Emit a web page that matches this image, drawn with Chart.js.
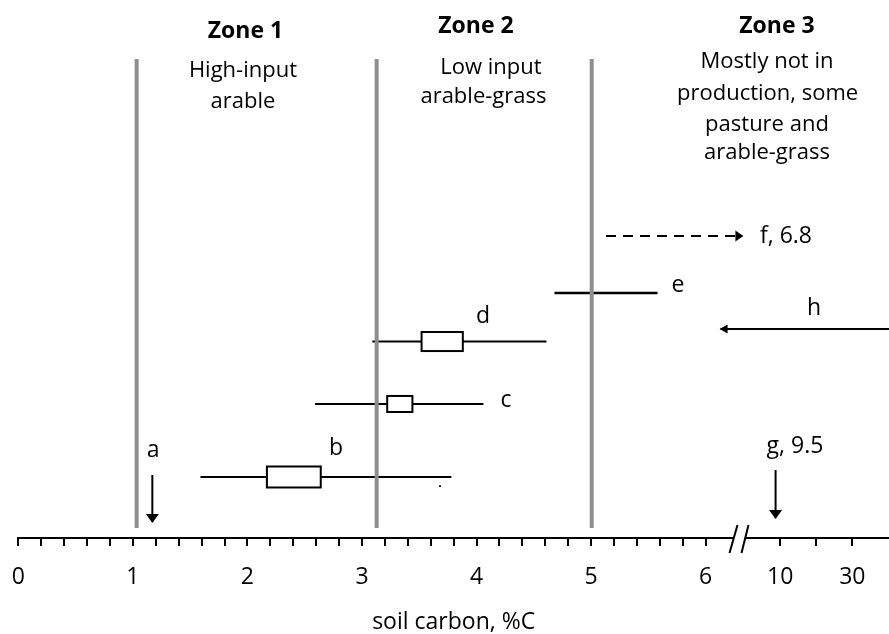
<!DOCTYPE html>
<html><head><meta charset="utf-8">
<script src="https://cdn.jsdelivr.net/npm/chart.js@4.4.1/dist/chart.umd.min.js"></script>
<style>html,body{margin:0;padding:0;background:#fff}#wrap{width:889px;height:634px;position:relative}</style>
</head><body><div id="wrap"><canvas id="c"></canvas></div>
<script>
// ---------------- data ----------------
const zoneBounds = [1.033, 3.128, 5.005];
const zoneTitles = ['Zone 1', 'Zone 2', 'Zone 3'];
const zoneDescriptions = [
  ['High-input', 'arable'],
  ['Low input', 'arable-grass'],
  ['Mostly not in', 'production, some', 'pasture and', 'arable-grass']
];

const rangeStudies = ['b', 'c', 'd', 'e'];
const rangeLow  = [1.59, 2.59, 3.09, 4.68];
const rangeHigh = [3.78, 4.06, 4.61, 5.58];

const boxStudies = ['b', 'c', 'd'];
const boxLow  = [2.17, 3.22, 3.52];
const boxHigh = [2.64, 3.44, 3.88];

const arrowStudies = ['a', 'f', 'g', 'h'];
const arrowFrom = [1.17, 5.13, 6.61, 7.60];
const arrowTo   = [1.17, 6.32, 6.61, 6.13];

const studyLabels = { a: 'a', b: 'b', c: 'c', d: 'd', e: 'e', f: 'f, 6.8', g: 'g, 9.5', h: 'h' };

const majorTickValues = [0, 1, 2, 3, 4, 5, 6];
const brokenTickValues = [6.65, 6.96, 7.28];
const brokenTickLabels = ['10', '', '30'];
const axisBreakAt = 6.295;
const axisMax = 7.60;

// ---------------- layout (positions / sizes) ----------------
const rowY = { b: 1.134, c: 2.491, d: 3.652, e: 4.554, f: 5.613, h: 3.885 };
const verticalArrowY = { a: [1.171, 0.297], g: [1.264, 0.372] };
const boxHalfHeight = { b: 0.195, c: 0.149, d: 0.177 };
const zoneLineY = [0.186, 8.903];
const arrowStyle = {
  a: { w: 2, len: 9, wid: 13, dash: [] },
  f: { w: 2, len: 8, wid: 11, dash: [10, 7] },
  g: { w: 2, len: 9, wid: 13, dash: [] },
  h: { w: 1.8, len: 8, wid: 9, dash: [] }
};
const zoneTitlePos = [[1.983, 9.294], [3.995, 9.387], [6.622, 9.387]];
const zoneDescPos = [
  [[1.961, 8.569], [1.961, 7.993]],
  [[4.126, 8.625], [4.060, 8.086]],
  [[6.535, 8.736], [6.540, 8.141], [6.535, 7.565], [6.535, 7.045]]
];
const labelPos = {
  a: [1.176, 1.506, 'center'], b: [2.773, 1.543, 'center'], c: [4.257, 2.435, 'center'],
  d: [4.056, 3.996, 'center'], e: [5.758, 4.572, 'center'], f: [6.474, 5.483, 'left'],
  g: [6.779, 1.580, 'center'], h: [6.945, 4.145, 'center']
};
const strayDot = [{ x: 3.681, y: 0.967 }];

const FONT = '"Open Sans", "DejaVu Sans", sans-serif';
const minorTicks = [];
for (let i = 0; i <= 30; i++) minorTicks.push(Math.round(i * 2) / 10);

// ---------------- datasets ----------------
const datasets = [];
zoneBounds.forEach((xv, i) => datasets.push({
  label: zoneTitles[i] + ' boundary',
  data: [{ x: xv, y: zoneLineY[0] }, { x: xv, y: zoneLineY[1] }],
  showLine: true, borderColor: '#8e8e8e', borderWidth: 4, pointRadius: 0, order: 0
}));
rangeStudies.forEach((s, i) => datasets.push({
  label: 'range ' + s,
  data: [{ x: rangeLow[i], y: rowY[s] }, { x: rangeHigh[i], y: rowY[s] }],
  showLine: true, borderColor: '#000', borderWidth: s === 'e' ? 2.5 : 2, pointRadius: 0, order: 2
}));
arrowStudies.forEach((s, i) => {
  const v = verticalArrowY[s];
  const y0 = v ? v[0] : rowY[s], y1 = v ? v[1] : rowY[s];
  datasets.push({
    label: 'arrow ' + s,
    data: [{ x: arrowFrom[i], y: y0 }, { x: arrowTo[i], y: y1 }],
    showLine: true, borderColor: '#000', borderWidth: arrowStyle[s].w,
    borderDash: arrowStyle[s].dash, pointRadius: 0, order: 2, arrowHead: arrowStyle[s]
  });
});
datasets.push({ label: 'dot', data: strayDot, pointRadius: 1.1, backgroundColor: '#000', borderWidth: 0, showLine: false, order: 1 });

// ---------------- plugin for boxes, arrowheads, break, text ----------------
const diagramPlugin = {
  id: 'diagram',
  afterDraw(chart) {
    const { ctx, scales: { x, y } } = chart;
    ctx.save();
    // axis break
    const bc = x.getPixelForValue(axisBreakAt);
    const ay = chart.chartArea.bottom;
    ctx.fillStyle = '#fff';
    ctx.fillRect(bc - 5.5, ay - 4, 11, 8);
    ctx.strokeStyle = '#000';
    ctx.lineWidth = 2;
    ctx.beginPath();
    ctx.moveTo(bc - 10, ay + 15); ctx.lineTo(bc - 2, ay - 13);
    ctx.moveTo(bc + 2, ay + 15); ctx.lineTo(bc + 9, ay - 13);
    ctx.stroke();

    // boxes
    boxStudies.forEach((s, i) => {
      const x1 = x.getPixelForValue(boxLow[i]), x2 = x.getPixelForValue(boxHigh[i]);
      const y1 = y.getPixelForValue(rowY[s] + boxHalfHeight[s]), y2 = y.getPixelForValue(rowY[s] - boxHalfHeight[s]);
      ctx.fillStyle = '#fff';
      ctx.fillRect(x1, y1, x2 - x1, y2 - y1);
      ctx.strokeStyle = '#000';
      ctx.lineWidth = 2;
      ctx.strokeRect(x1, y1, x2 - x1, y2 - y1);
    });

    // arrowheads
    chart.data.datasets.forEach((ds, i) => {
      if (!ds.arrowHead) return;
      const meta = chart.getDatasetMeta(i);
      const p0 = meta.data[0], p1 = meta.data[1];
      let dx = p1.x - p0.x, dy = p1.y - p0.y;
      const L = Math.hypot(dx, dy); dx /= L; dy /= L;
      const tx = p1.x + dx * 1, ty = p1.y + dy * 1;
      const bx = tx - dx * ds.arrowHead.len, by = ty - dy * ds.arrowHead.len;
      const hw = ds.arrowHead.wid / 2;
      ctx.fillStyle = '#000';
      ctx.beginPath();
      ctx.moveTo(tx, ty);
      ctx.lineTo(bx - dy * hw, by + dx * hw);
      ctx.lineTo(bx + dy * hw, by - dx * hw);
      ctx.closePath();
      ctx.fill();
    });

    // texts
    ctx.fillStyle = '#000';
    ctx.textBaseline = 'alphabetic';
    ctx.textAlign = 'center';
    ctx.font = 'bold 23px ' + FONT;
    zoneTitles.forEach((t, i) => ctx.fillText(t, x.getPixelForValue(zoneTitlePos[i][0]), y.getPixelForValue(zoneTitlePos[i][1])));
    ctx.font = '22px ' + FONT;
    zoneDescriptions.forEach((lines, i) => lines.forEach((t, j) =>
      ctx.fillText(t, x.getPixelForValue(zoneDescPos[i][j][0]), y.getPixelForValue(zoneDescPos[i][j][1]))));
    ctx.font = '23px ' + FONT;
    Object.keys(studyLabels).forEach(s => {
      const p = labelPos[s];
      ctx.textAlign = p[2];
      ctx.fillText(studyLabels[s], x.getPixelForValue(p[0]), y.getPixelForValue(p[1]));
    });
    ctx.restore();
  }
};

function tickLabel(v) {
  const m = majorTickValues.find(t => Math.abs(t - v) < 1e-6);
  if (m !== undefined) return String(m);
  const k = brokenTickValues.findIndex(t => Math.abs(t - v) < 1e-6);
  return k >= 0 ? brokenTickLabels[k] : '';
}

function build() {
  new Chart(document.getElementById('c'), {
    type: 'scatter',
    data: { datasets },
    plugins: [diagramPlugin],
    options: {
      responsive: true, maintainAspectRatio: false, animation: false, events: [],
      layout: { autoPadding: false, padding: { left: 18.3, right: 0, top: 0, bottom: 0 } },
      plugins: { legend: { display: false }, tooltip: { enabled: false } },
      scales: {
        x: {
          type: 'linear', min: 0, max: axisMax,
          afterBuildTicks: (s) => {
            s.ticks = minorTicks.concat(brokenTickValues).map(v => ({ value: v }));
          },
          ticks: {
            autoSkip: false, maxRotation: 0, color: '#000', padding: 0,
            font: { family: FONT, size: 23, lineHeight: 2.75 }, callback: tickLabel
          },
          grid: { drawOnChartArea: false, drawTicks: true, tickLength: 8, lineWidth: 2, color: '#000' },
          border: { display: true, color: '#000', width: 2 },
          title: {
            display: true, text: 'soil carbon, %C', color: '#000',
            font: { family: FONT, size: 23, lineHeight: 1.0 }, padding: { top: 1.75, bottom: 0 }
          }
        },
        y: { type: 'linear', min: 0, max: 10, display: false }
      }
    }
  });
}
if (document.fonts && document.fonts.load) {
  Promise.all([document.fonts.load('23px "Open Sans"'), document.fonts.load('bold 23px "Open Sans"')]).then(build, build);
} else build();
</script>
</body></html>
